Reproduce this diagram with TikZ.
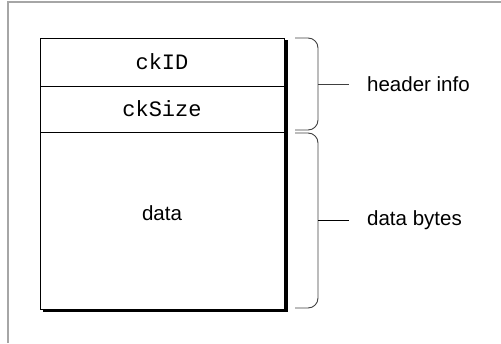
\documentclass[tikz,border=0pt]{standalone}
\usepackage{fontspec}
\setmainfont{Liberation Sans}
\setmonofont{Liberation Mono}
\begin{document}
\begin{tikzpicture}[x=1pt,y=-1pt,
  field/.style={draw=black,line width=0.9pt,minimum width=244pt,inner sep=0pt,outer sep=0pt},
  mono/.style={font=\fontsize{22}{24}\selectfont\ttfamily},
  sans/.style={font=\fontsize{20.5}{23}\selectfont},
  brace/.style={draw=black!75,line width=0.9pt,rounded corners=10pt},
  tick/.style={draw=black!75,line width=0.9pt},
  shadow/.style={draw=black,line width=3pt},
  frame/.style={draw=black!35,line width=1.4pt}]
\useasboundingbox (0,0) rectangle (501,343);
% outer frame (top and left edges only)
\draw[frame] (8,343) -- (8,2) -- (501,2);
% chunk fields
\node[field,minimum height=48pt,anchor=north west] (id) at (40,38) {};
\node[field,minimum height=46pt,anchor=north west] (size) at (40,86) {};
\node[field,minimum height=177pt,anchor=north west] (data) at (40,132) {};
\node[mono] at (id.center) {ckID};
\node[mono] at (size.center) {ckSize};
\node[sans,anchor=base] (dt) at (162,220) {data};
% drop shadow along the right and bottom edges of the chunk box
\draw[shadow] (286,40) -- (286,310.5) -- (43,310.5);
% braces
\coordinate (h1) at (295,38);
\coordinate (h2) at (295,130);
\coordinate (hm) at (318,84);
\coordinate (d1) at (295,133);
\coordinate (d2) at (295,308);
\coordinate (dm) at (318,220.5);
\draw[brace] (h1) -- (318,38) -- (318,130) -- (h2);
\draw[brace] (d1) -- (318,133) -- (318,308) -- (d2);
% labels
\node[sans,anchor=west,inner sep=0pt] (hl) at (367,84) {header info};
\node[sans,anchor=west,inner sep=0pt] (dl) at (367,220.5) {data bytes};
\draw[tick] (hm) -- ([xshift=-18pt]hl.west);
\draw[tick,draw=black] (dm) -- ([xshift=-18pt]dl.west);
\end{tikzpicture}
\end{document}
